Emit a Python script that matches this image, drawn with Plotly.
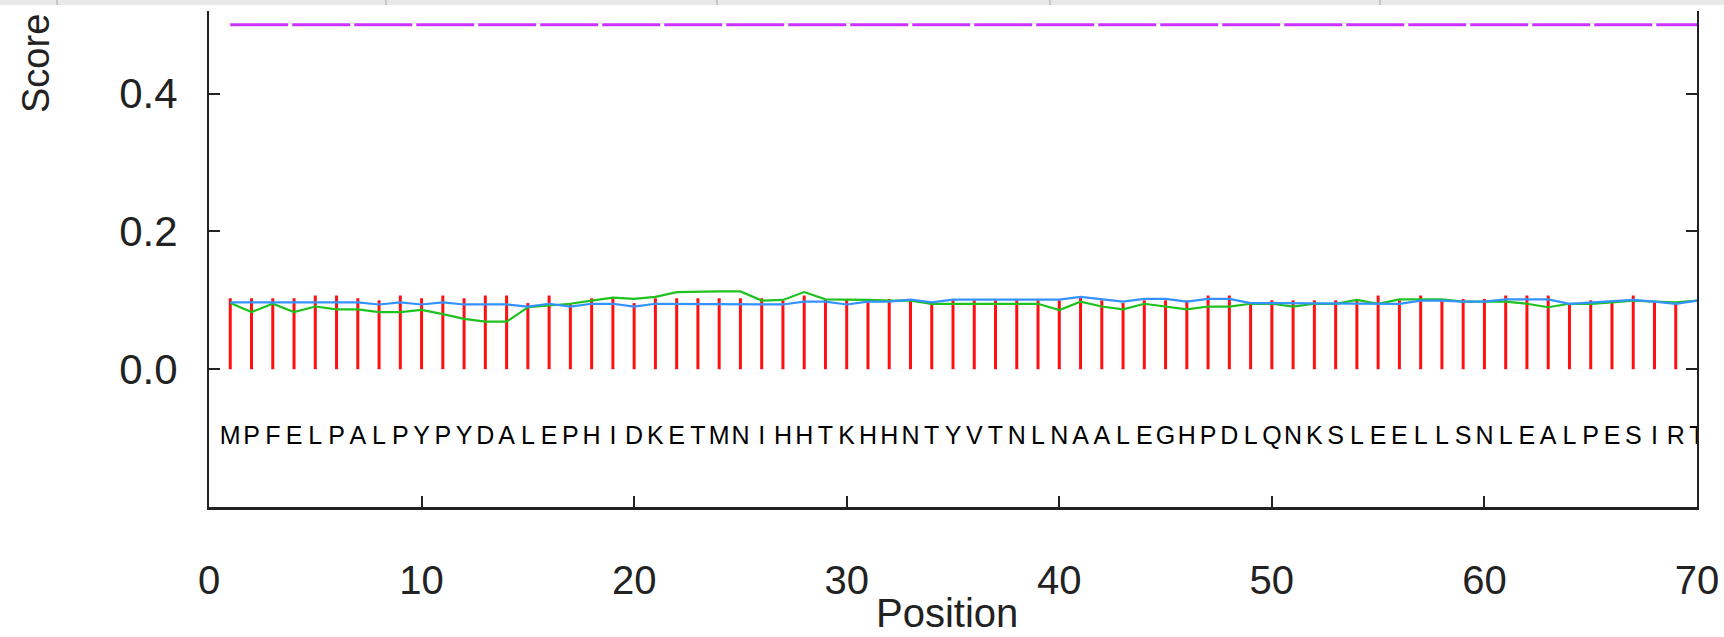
import plotly.graph_objects as go

sequence = list("MPFELPALPYPYDALEPHIDKETMNIHHTKHHNTYVTNLNAALEGHPDLQNKSLEELLSNLEALPESIRT")
positions = list(range(1, 71))

c_score = [0.103, 0.103, 0.103, 0.103, 0.107, 0.107, 0.103, 0.100, 0.107, 0.103,
           0.107, 0.103, 0.107, 0.107, 0.096, 0.107, 0.096, 0.103, 0.103, 0.096,
           0.103, 0.103, 0.103, 0.103, 0.103, 0.103, 0.100, 0.107, 0.102, 0.102,
           0.100, 0.102, 0.100, 0.098, 0.100, 0.100, 0.100, 0.100, 0.100, 0.100,
           0.105, 0.100, 0.096, 0.100, 0.100, 0.100, 0.107, 0.107, 0.095, 0.100,
           0.100, 0.100, 0.100, 0.100, 0.107, 0.100, 0.107, 0.100, 0.102, 0.102,
           0.107, 0.107, 0.107, 0.095, 0.100, 0.098, 0.107, 0.098, 0.095]

s_score = [0.096, 0.083, 0.095, 0.083, 0.091, 0.087, 0.087, 0.083, 0.083, 0.086,
           0.080, 0.073, 0.069, 0.069, 0.090, 0.093, 0.095, 0.0996, 0.104, 0.102,
           0.105, 0.112, 0.113, 0.113, 0.113, 0.0996, 0.1006, 0.112, 0.1015, 0.1015,
           0.1006, 0.0996, 0.0996, 0.095, 0.095, 0.095, 0.095, 0.095, 0.095, 0.086,
           0.098, 0.091, 0.087, 0.095, 0.091, 0.087, 0.091, 0.091, 0.095, 0.095,
           0.091, 0.095, 0.095, 0.1006, 0.095, 0.1015, 0.1015, 0.1015, 0.098, 0.098,
           0.098, 0.095, 0.090, 0.095, 0.095, 0.097, 0.0996, 0.098, 0.097, 0.0996]

y_score = [0.097, 0.097, 0.097, 0.097, 0.097, 0.097, 0.097, 0.094, 0.097, 0.094,
           0.097, 0.094, 0.094, 0.094, 0.091, 0.095, 0.091, 0.095, 0.095, 0.091,
           0.095, 0.095, 0.095, 0.095, 0.095, 0.095, 0.094, 0.098, 0.098, 0.094,
           0.098, 0.098, 0.101, 0.097, 0.101, 0.101, 0.101, 0.101, 0.101, 0.101,
           0.105, 0.101, 0.098, 0.102, 0.102, 0.098, 0.102, 0.102, 0.096, 0.096,
           0.096, 0.096, 0.096, 0.095, 0.096, 0.095, 0.0996, 0.0996, 0.098, 0.098,
           0.1015, 0.1015, 0.1015, 0.095, 0.097, 0.098, 0.1006, 0.098, 0.095, 0.0996]

threshold = 0.5
x_ticks = [0, 10, 20, 30, 40, 50, 60, 70]
y_ticks = [0.0, 0.2, 0.4]
y_ticktext = ["0.0", "0.2", "0.4"]
letter_y = -0.1

FONT = "Liberation Sans, Arial, sans-serif"
INK = "#222222"

# C-score as vertical impulse lines built from the data arrays
cx, cy = [], []
for p, c in zip(positions, c_score):
    cx += [p, p, None]
    cy += [0, c, None]

fig = go.Figure()

fig.add_trace(go.Scatter(x=cx, y=cy, mode="lines",
                         line=dict(color="#ff1010", width=3),
                         showlegend=False, hoverinfo="skip"))
fig.add_trace(go.Scatter(x=positions, y=s_score, mode="lines",
                         line=dict(color="#1ec21e", width=2.2), showlegend=False))
fig.add_trace(go.Scatter(x=positions, y=y_score, mode="lines",
                         line=dict(color="#3392ff", width=2.2), showlegend=False))
fig.add_trace(go.Scatter(x=[positions[0], positions[-1]], y=[threshold, threshold], mode="lines",
                         line=dict(color="#cc33ff", width=3, dash="58px,4px"), showlegend=False))
fig.add_trace(go.Scatter(x=positions, y=[letter_y] * len(sequence), mode="text",
                         text=sequence, textposition="middle center",
                         textfont=dict(family=FONT, size=25, color="#000000"),
                         showlegend=False, hoverinfo="skip"))

# window strip at the very top of the screenshot
fig.add_shape(type="rect", xref="paper", yref="paper", x0=-0.2, x1=1.05,
              y0=1.0121, y1=1.03, fillcolor="#e9e9e9", line=dict(width=0), layer="below")
for sx in [57, 386, 717, 1050, 1380]:
    px = (sx - 209) / 1488
    fig.add_shape(type="line", xref="paper", yref="paper", x0=px, x1=px,
                  y0=1.0121, y1=1.03, line=dict(color="#c8c8c8", width=2))

fig.add_annotation(text="Score", xref="paper", yref="paper",
                   x=(36 - 209) / 1488, y=(507 - 64) / 496, textangle=-90,
                   xanchor="center", yanchor="middle",
                   showarrow=False, font=dict(family=FONT, size=38, color=INK))
fig.add_annotation(text="Position", xref="paper", yref="paper",
                   x=(947 - 209) / 1488, y=(507 - 613) / 496,
                   xanchor="center", yanchor="middle",
                   showarrow=False, font=dict(family=FONT, size=40, color=INK))

fig.update_layout(
    width=1724, height=637,
    margin=dict(l=209, r=27, t=11, b=130),
    paper_bgcolor="white", plot_bgcolor="white",
    font=dict(family=FONT, color=INK),
    xaxis=dict(range=[0, 70], tickvals=x_ticks, ticks="inside", ticklen=11, tickwidth=2,
               tickcolor=INK, showline=True, linecolor=INK, linewidth=3,
               mirror=False, showgrid=False, zeroline=False, automargin=False,
               tickfont=dict(family=FONT, size=40, color=INK),
               ticklabelstandoff=36),
    yaxis=dict(range=[-0.2, 0.52], tickvals=y_ticks, ticktext=y_ticktext, ticks="inside",
               ticklen=11, tickwidth=2, tickcolor=INK, showline=True,
               linecolor=INK, linewidth=2, mirror="ticks", showgrid=False,
               zeroline=False, automargin=False,
               tickfont=dict(family=FONT, size=42, color=INK),
               ticklabelstandoff=21),
)

fig.write_html("out.html")
